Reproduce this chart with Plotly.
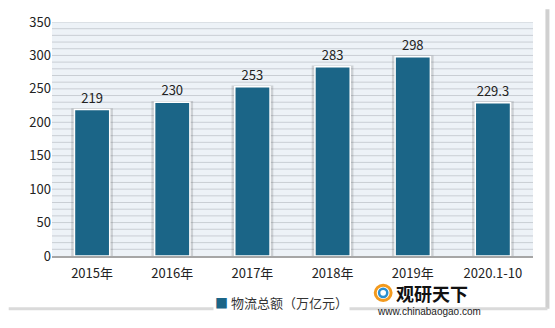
import plotly.graph_objects as go

categories = ["2015年", "2016年", "2017年", "2018年", "2019年", "2020.1-10"]
values = [219, 230, 253, 283, 298, 229.3]
labels = ["219", "230", "253", "283", "298", "229.3"]
series_name = "物流总额（万亿元）"

font_family = "Microsoft YaHei, Noto Sans CJK SC, Open Sans, sans-serif"
bar_color = "#1B6587"

fig = go.Figure()
# soft shadow behind bars
fig.add_trace(go.Bar(x=categories, y=[v + 2 for v in values], width=0.52,
                     marker=dict(color="rgba(60,60,60,0.18)", line=dict(width=0)),
                     hoverinfo="skip", showlegend=False))
fig.add_trace(go.Bar(x=categories, y=values, width=0.44, name=series_name,
                     marker=dict(color=bar_color, line=dict(color="white", width=1.5)),
                     text=labels, textposition="outside",
                     textfont=dict(size=13, color="#222", family=font_family),
                     cliponaxis=False, showlegend=False))

fig.update_layout(
    width=555, height=328,
    margin=dict(l=52, r=22, t=20, b=72),
    paper_bgcolor="white", plot_bgcolor="#EDF2F7",
    barmode="overlay",
    font=dict(family=font_family, size=13, color="#222"),
    showlegend=False,
    xaxis=dict(showgrid=False, showline=True, linecolor="#A6A6A6", linewidth=2,
               ticks="", ticklabelstandoff=4, tickfont=dict(size=13, color="#222")),
    yaxis=dict(range=[0, 350], tickvals=[0, 50, 100, 150, 200, 250, 300, 350],
               showgrid=False, zeroline=False, ticks="",
               tickfont=dict(size=13, color="#222")),
)

# minor gridlines every 10 units
for g in range(10, 351, 10):
    fig.add_shape(type="line", xref="paper", yref="y", x0=0, x1=1, y0=g, y1=g,
                  line=dict(color="#C9CED4", width=1), layer="below")

# outer frame shadow
fig.add_shape(type="line", xref="paper", yref="paper", x0=1.03, x1=1.03, y0=-0.225, y1=1.055,
              line=dict(color="#D0D0D0", width=4))
fig.add_shape(type="line", xref="paper", yref="paper", x0=-0.09, x1=1.03, y0=-0.225, y1=-0.225,
              line=dict(color="#DADADA", width=3))

# legend
fig.add_annotation(xref="paper", yref="paper", x=0.335, y=-0.2, xanchor="left", yanchor="middle",
                   text="<span style='color:%s'>■</span> %s" % (bar_color, series_name),
                   showarrow=False, font=dict(size=13, color="#333", family=font_family),
                   bgcolor="white")
# watermark logo
fig.add_shape(type="circle", xref="paper", yref="paper", x0=0.672, x1=0.705, y0=-0.19, y1=-0.125,
              line=dict(color="#F39A1E", width=3))
fig.add_shape(type="circle", xref="paper", yref="paper", x0=0.68, x1=0.697, y0=-0.175, y1=-0.14,
              line=dict(color="#2B8FD0", width=2.5))
fig.add_annotation(xref="paper", yref="paper", x=0.71, y=-0.16, xanchor="left", yanchor="middle",
                   text="<b>观研天下</b>", showarrow=False, height=20,
                   font=dict(size=18, color="#111", family=font_family))
fig.add_annotation(xref="paper", yref="paper", x=0.672, y=-0.236, xanchor="left", yanchor="middle",
                   text="www.chinabaogao.com", showarrow=False, height=12,
                   font=dict(size=10, color="#222", family="Arial, Liberation Sans, sans-serif"))

fig.write_html("out.html")
